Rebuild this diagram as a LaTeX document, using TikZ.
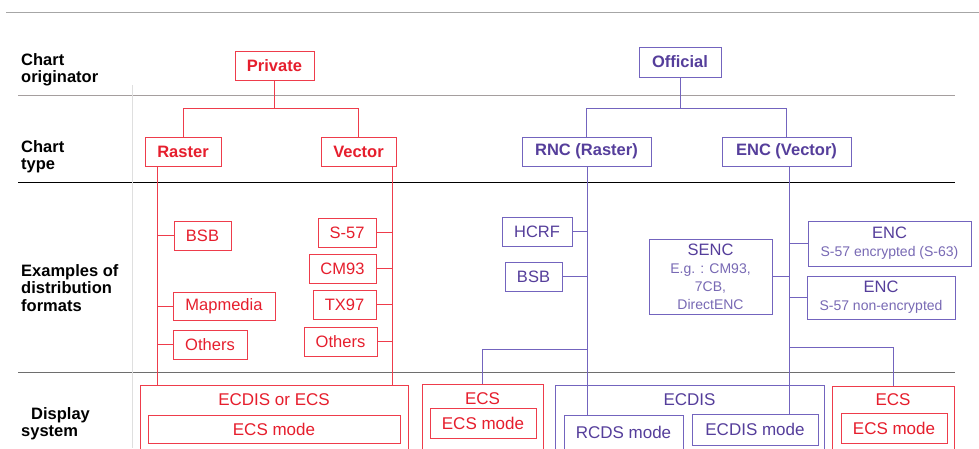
\documentclass[tikz,border=0pt]{standalone}
\usepackage{fontspec}
\setmainfont{Liberation Sans}
\definecolor{rtext}{RGB}{230,30,45}
\definecolor{rline}{RGB}{238,60,75}
\definecolor{ptext}{RGB}{85,62,155}
\definecolor{psub}{RGB}{120,105,180}
\definecolor{pline}{RGB}{115,100,190}
\definecolor{sepgray}{RGB}{165,158,158}
\definecolor{sepdark}{RGB}{110,110,110}
\newcommand{\subline}[1]{{\fontsize{14}{15}\selectfont\color{psub}#1}}
\begin{document}
\begin{tikzpicture}[x=1pt,y=-1pt,
  wh/.style 2 args={minimum width=#1pt,minimum height=#2pt},
  box/.style={draw,inner sep=0pt,line width=0.8pt,font=\fontsize{16.5}{18}\selectfont},
  rbox/.style={box,draw=rline,text=rtext},
  pbox/.style={box,draw=pline,text=ptext},
  hbold/.style={font=\bfseries\fontsize{16.5}{18}\selectfont},
  dtext/.style={font=\fontsize{17}{18}\selectfont},
  lbl/.style={font=\bfseries\fontsize{16.5}{17.5}\selectfont,align=left,anchor=north west,inner sep=0pt},
  rcon/.style={draw=rline,line width=0.8pt},
  pcon/.style={draw=pline,line width=0.8pt}]
\useasboundingbox (0,0) rectangle (979,448);
\fill[white] (0,0) rectangle (979,448);
\clip (0,0) rectangle (979,448);

% separators
\draw[gray!70,line width=0.8pt] (6,12) -- (979,12);
\draw[sepgray,line width=1pt] (18,95) -- (955,95);
\draw[black,line width=0.9pt] (18,182) -- (955,182);
\draw[sepdark,line width=0.9pt] (18,372) -- (955,372);
\draw[gray!25,line width=0.6pt] (132,85) -- (132,448);

% row labels
\node[lbl] (l1) at (21,53) {Chart\\originator};
\node[lbl] (l2) at (21,140) {Chart\\type};
\node[lbl] (l3) at (21,264) {Examples of\\distribution\\formats};
\node[lbl] (l4) at (21,407) {\hspace*{10pt}Display\\system};

% originators and types
\node[rbox,hbold,wh={79}{29}] (private) at (274.5,65.5) {Private};
\node[rbox,hbold,wh={76}{29}] (raster) at (183,151.5) {Raster};
\node[rbox,hbold,wh={75}{29}] (vector) at (358.5,151.5) {Vector};
\node[pbox,hbold,wh={82}{30}] (official) at (680,62) {Official};
\node[pbox,hbold,wh={129}{29}] (rnc) at (586.5,151.5) {RNC (Raster)};
\node[pbox,hbold,wh={129}{29}] (encv) at (786.5,151.5) {ENC (Vector)};

% private formats
\node[rbox,wh={57}{29}] (bsbL) at (202.5,235.5) {BSB};
\node[rbox,wh={102}{28}] (mapmedia) at (224,306) {Mapmedia};
\node[rbox,wh={74}{29}] (othersL) at (210,344.5) {Others};
\node[rbox,wh={58}{29}] (s57) at (347,232.5) {S-57};
\node[rbox,wh={67}{29}] (cm93) at (342.5,268.5) {CM93};
\node[rbox,wh={63}{29}] (tx97) at (344.5,304.5) {TX97};
\node[rbox,wh={73}{29}] (othersR) at (340.5,341.5) {Others};

% official formats
\node[pbox,wh={70}{29}] (hcrf) at (537,231.5) {HCRF};
\node[pbox,wh={57}{29}] (bsbR) at (533.5,276.5) {BSB};
\node[pbox,wh={123}{75},align=center] (senc) at (710.5,276.5)
  {SENC\\\subline{E.g. : CM93,}\\\subline{7CB,}\\\subline{DirectENC}};
\node[pbox,wh={163}{45},align=center] (encE) at (889.5,243.5)
  {ENC\\\subline{S-57 encrypted (S-63)}};
\node[pbox,wh={148}{43},align=center] (encN) at (881,297.5)
  {ENC\\\subline{S-57 non-encrypted}};

% display systems
\node[rbox,wh={268}{75}] (dispL) at (274,422.5) {};
\node[text=rtext,dtext,inner sep=0pt] (tL) at (274,400) {ECDIS or ECS};
\node[rbox,dtext,wh={252}{28}] (ecsLm) at (274,429) {ECS mode};

\node[rbox,wh={121}{76}] (ecsM) at (482.5,422) {};
\node[text=rtext,dtext,inner sep=0pt] (tM) at (482.5,399) {ECS};
\node[rbox,dtext,wh={106}{30}] (ecsMm) at (483,423) {ECS mode};

\node[pbox,wh={269}{75}] (ecdis) at (689.5,422.5) {};
\node[text=ptext,dtext,inner sep=0pt] (tE) at (689.5,400) {ECDIS};
\node[pbox,dtext,wh={119}{35}] (rcds) at (623.5,432.5) {RCDS mode};
\node[pbox,dtext,wh={126}{31}] (ecdism) at (755,429.5) {ECDIS mode};

\node[rbox,wh={122}{74}] (ecsR) at (893,423) {};
\node[text=rtext,dtext,inner sep=0pt] (tR) at (893,400) {ECS};
\node[rbox,dtext,wh={106}{30}] (ecsRm) at (894,428) {ECS mode};

% red connectors
\draw[rcon] (private.south) -- ++(0,28) coordinate (pj) -| (raster.north);
\draw[rcon] (pj) -| (vector.north);
\coordinate (rt) at (157,166);
\coordinate (vt) at (392,166);
\draw[rcon] (rt) -- (rt |- dispL.north);
\draw[rcon] (vt) -- (vt |- dispL.north);
\draw[rcon] (bsbL.west) -- (bsbL.west -| rt);
\draw[rcon] (mapmedia.west) -- (mapmedia.west -| rt);
\draw[rcon] (othersL.west) -- (othersL.west -| rt);
\draw[rcon] (s57.east) -- (s57.east -| vt);
\draw[rcon] (cm93.east) -- (cm93.east -| vt);
\draw[rcon] (tx97.east) -- (tx97.east -| vt);
\draw[rcon] (othersR.east) -- (othersR.east -| vt);

% purple connectors
\draw[pcon] (official.south) -- ++(0,31) coordinate (oj) -| (rnc.north);
\draw[pcon] (oj) -| (encv.north);
\coordinate (rnct) at (587.5,166);
\coordinate (enct) at (789,166);
\draw[pcon] (rnct) -- (rnct |- rcds.north);
\draw[pcon] (enct) -- (enct |- ecdism.north);
\draw[pcon] (hcrf.east) -- (hcrf.east -| rnct);
\draw[pcon] (bsbR.east) -- (bsbR.east -| rnct);
\draw[pcon] (senc.east) -- (senc.east -| enct);
\draw[pcon] (encE.west) -- (encE.west -| enct);
\draw[pcon] (encN.west) -- (encN.west -| enct);
\coordinate (rj) at (587.5,349);
\draw[pcon] (rj) -| (ecsM.north);
\coordinate (ej) at (789,347);
\draw[pcon] (ej) -| (ecsR.north);
\end{tikzpicture}
\end{document}
